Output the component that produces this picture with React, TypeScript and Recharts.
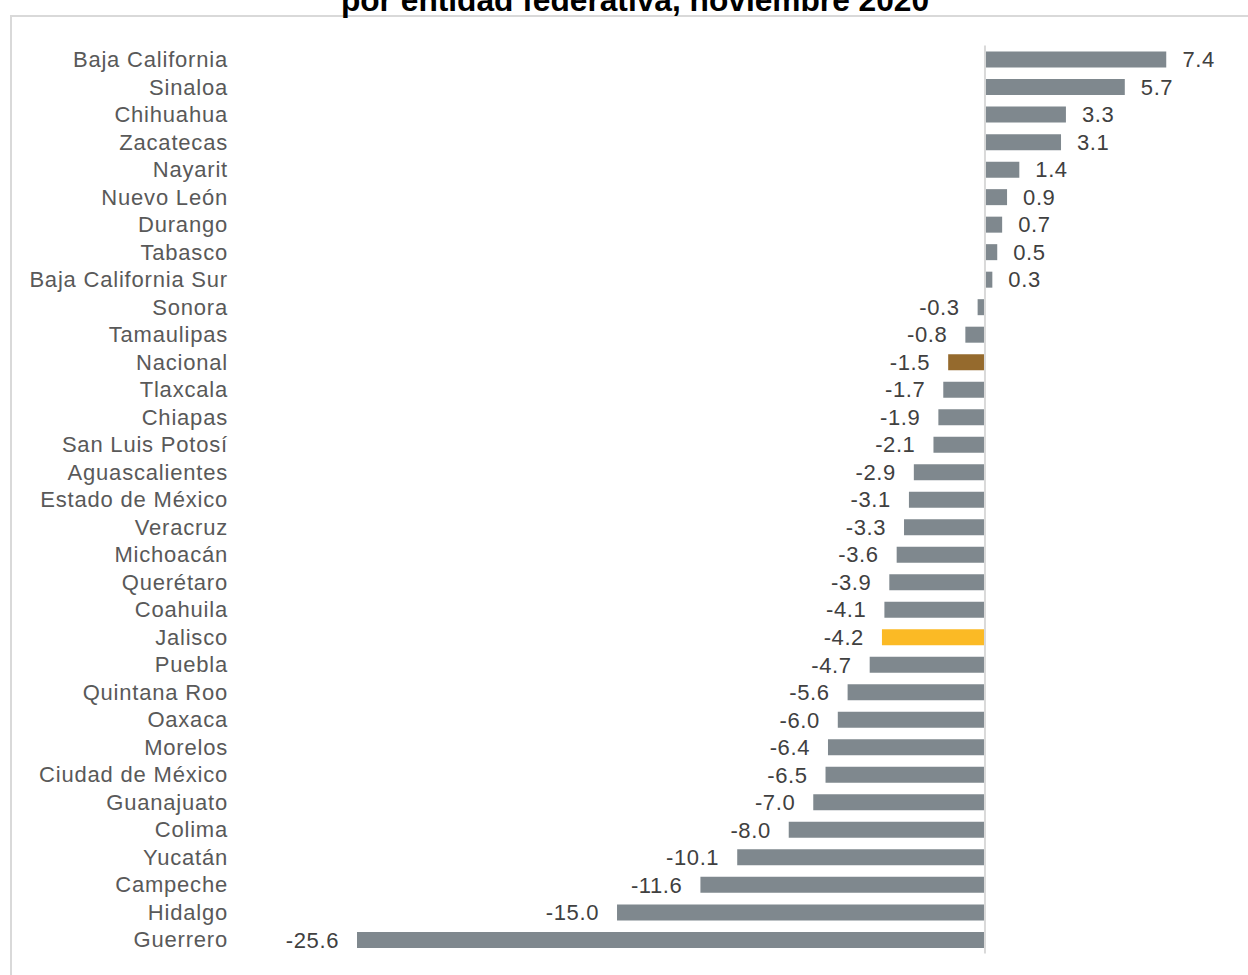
import React from 'react';
import { BarChart, Bar, XAxis, YAxis, Cell, LabelList, ReferenceLine } from 'recharts';

const states = [
  'Baja California', 'Sinaloa', 'Chihuahua', 'Zacatecas', 'Nayarit', 'Nuevo León', 'Durango', 'Tabasco',
  'Baja California Sur', 'Sonora', 'Tamaulipas', 'Nacional', 'Tlaxcala', 'Chiapas', 'San Luis Potosí',
  'Aguascalientes', 'Estado de México', 'Veracruz', 'Michoacán', 'Querétaro', 'Coahuila', 'Jalisco',
  'Puebla', 'Quintana Roo', 'Oaxaca', 'Morelos', 'Ciudad de México', 'Guanajuato', 'Colima', 'Yucatán',
  'Campeche', 'Hidalgo', 'Guerrero',
];
const values = [
  7.4, 5.7, 3.3, 3.1, 1.4, 0.9, 0.7, 0.5, 0.3, -0.3, -0.8, -1.5, -1.7, -1.9, -2.1, -2.9, -3.1, -3.3,
  -3.6, -3.9, -4.1, -4.2, -4.7, -5.6, -6.0, -6.4, -6.5, -7.0, -8.0, -10.1, -11.6, -15.0, -25.6,
];
const titleText = 'por entidad federativa, noviembre 2020';
const nationalName = 'Nacional';
const highlightName = 'Jalisco';

const data = states.map((name, i) => ({ name, value: values[i] }));

const GRAY = '#7F888E';
const BROWN = '#956A2D';
const YELLOW = '#FBBA25';
const LABEL_RIGHT_X = 228;
const FONT = "'Liberation Sans', Arial, sans-serif";

const CategoryTick = (props: any) => {
  const { y, payload } = props;
  return (
    <text x={LABEL_RIGHT_X} y={y} dy="0.35em" textAnchor="end" fontSize={22} fill="#595959"
      fontFamily={FONT} letterSpacing={0.8}>
      {payload.value}
    </text>
  );
};

const ValueLabel = (props: any) => {
  const { x, y, width, height, value } = props;
  const a = Number(x);
  const b = Number(x) + Number(width);
  const cy = Number(y) + Number(height) / 2;
  const v = Number(value);
  const end = v >= 0 ? Math.max(a, b) : Math.min(a, b);
  const tx = v >= 0 ? end + 16 : end - 18;
  return (
    <text x={tx} y={cy} dy="0.35em" textAnchor={v >= 0 ? 'start' : 'end'} fontSize={22} fill="#404040"
      fontFamily={FONT} letterSpacing={0.6}>
      {v.toFixed(1)}
    </text>
  );
};

export default function App() {
  return (
    <div style={{ position: 'absolute', left: 0, top: 0, width: 1248, height: 975, overflow: 'hidden', background: '#fff' }}>
      <div style={{
        position: 'absolute', left: 10, top: 15, width: 1400, height: 1100,
        border: '2px solid #D9D9D9', boxSizing: 'border-box',
      }} />
      <div style={{
        position: 'absolute', left: 0, width: 1270, top: -19, textAlign: 'center',
        fontFamily: FONT, fontWeight: 'bold', fontSize: 31.7, lineHeight: '38px', color: '#000',
      }}>
        {titleText}
      </div>
      <div style={{ position: 'absolute', left: 0, top: 0 }}>
        <BarChart width={1248} height={975} data={data} layout="vertical"
          margin={{ top: 45.6, right: 81.5, bottom: 21.6, left: 0 }} barCategoryGap={0}>
          <XAxis type="number" domain={[-25.6, 7.4]} hide allowDataOverflow />
          <YAxis type="category" dataKey="name" width={357} axisLine={false} tickLine={false}
            tick={<CategoryTick />} interval={0} />
          <ReferenceLine x={0} stroke="#D9D9D9" strokeWidth={2} ifOverflow="extendDomain" />
          <Bar dataKey="value" barSize={16} isAnimationActive={false}>
            {data.map((d) => (
              <Cell key={d.name} fill={d.name === nationalName ? BROWN : d.name === highlightName ? YELLOW : GRAY} />
            ))}
            <LabelList dataKey="value" content={<ValueLabel />} />
          </Bar>
        </BarChart>
      </div>
    </div>
  );
}
